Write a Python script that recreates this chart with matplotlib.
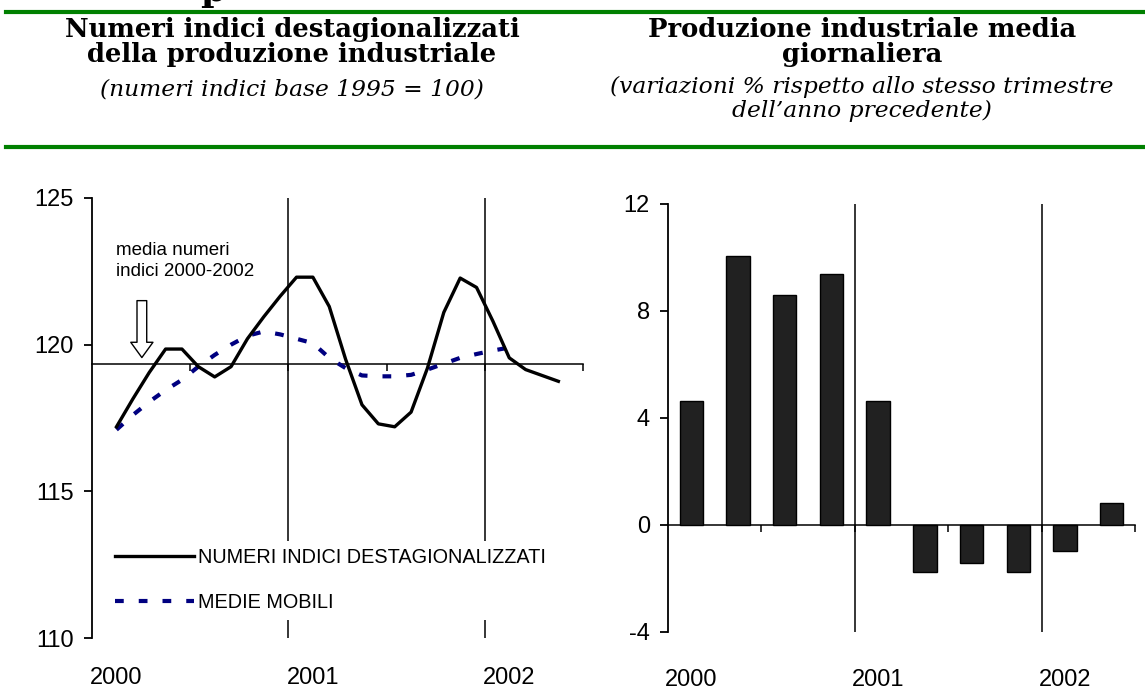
import matplotlib
matplotlib.use("Agg")
import matplotlib.pyplot as plt
from matplotlib.lines import Line2D

plt.rcParams['font.family'] = ['Liberation Sans', 'DejaVu Sans']
plt.rcParams['axes.unicode_minus'] = False

# numeri indici destagionalizzati (mensili, feb 2000 - mag 2002)
mesi = [k + 0.5 for k in range(1, 29)]
indici = [117.2, 118.15, 119.05, 119.85, 119.85, 119.25, 118.9, 119.25, 120.2, 120.95,
          121.65, 122.3, 122.3, 121.3, 119.5, 117.95, 117.3, 117.2, 117.7, 119.2,
          121.1, 122.27, 121.95, 120.8, 119.55, 119.15, 118.95, 118.75]

# medie mobili (feb 2000 - feb 2002)
mesi_mm = [k + 0.5 for k in range(1, 26)]
medie_mobili = [117.1, 117.6, 118.05, 118.45, 118.8, 119.25, 119.65, 120.0, 120.3, 120.45,
                120.35, 120.2, 120.05, 119.55, 119.2, 118.95, 118.92, 118.92, 118.97, 119.15,
                119.35, 119.55, 119.68, 119.8, 119.9]

media_indici = 119.35

# produzione industriale media giornaliera, variazioni % trimestrali
trimestri = [k + 0.5 for k in range(10)]
variazioni = [4.65, 10.07, 8.59, 9.39, 4.65, -1.74, -1.43, -1.74, -0.99, 0.84]

anni = ['2000', '2001', '2002']
pos_anni_mesi = [1.5, 13.5, 25.5]
pos_anni_trim = [0.5, 4.5, 8.5]

verde = '#008000'
blu = '#000080'
serif = 'DejaVu Serif'

fig = plt.figure(figsize=(11.45, 6.91), dpi=100)

# linee verdi e titoli
for yy in [0.9826, 0.7873]:
    fig.add_artist(Line2D([0.005, 1.0], [yy, yy], transform=fig.transFigure,
                          color=verde, lw=3))

fig.text(213 / 1145, 1 - 1 / 691, 'p', family=serif, fontweight='bold', fontsize=26,
         ha='center', va='baseline')

fig.text(0.255, 0.9580, 'Numeri indici destagionalizzati', family=serif,
         fontweight='bold', fontsize=18.6, ha='center', va='center')
fig.text(0.255, 0.9210, 'della produzione industriale', family=serif,
         fontweight='bold', fontsize=18.6, ha='center', va='center')
fig.text(0.255, 0.8698, '(numeri indici base 1995 = 100)', family=serif,
         style='italic', fontsize=16.8, ha='center', va='center')

fig.text(0.753, 0.9580, 'Produzione industriale media', family=serif,
         fontweight='bold', fontsize=18.6, ha='center', va='center')
fig.text(0.753, 0.9210, 'giornaliera', family=serif,
         fontweight='bold', fontsize=18.6, ha='center', va='center')
fig.text(0.753, 0.8740, '(variazioni % rispetto allo stesso trimestre', family=serif,
         style='italic', fontsize=16.8, ha='center', va='center')
fig.text(0.753, 0.8400, 'dell\u2019anno precedente)', family=serif,
         style='italic', fontsize=16.8, ha='center', va='center')

# grafico di sinistra
ax1 = fig.add_axes([0.0803, 0.0767, 0.4288, 0.6368])
l_mm, = ax1.plot(mesi_mm, medie_mobili, color=blu, lw=3, dashes=(2.1, 3.6),
                 label='MEDIE MOBILI', zorder=3)
l_ind, = ax1.plot(mesi, indici, color='black', lw=2.4,
                  label='NUMERI INDICI DESTAGIONALIZZATI', zorder=4)
ax1.axvline(12, color='black', lw=1.1, zorder=1)
ax1.axvline(24, color='black', lw=1.1, zorder=1)
ax1.set_xlim(0, 30)
ax1.set_ylim(110, 125)
ax1.spines['top'].set_visible(False)
ax1.spines['right'].set_visible(False)
ax1.spines['left'].set_linewidth(1.3)
ax1.spines['bottom'].set_position(('data', media_indici))
ax1.spines['bottom'].set_linewidth(1.1)
ax1.set_xticks([6, 12, 18, 24, 30])
ax1.tick_params(axis='x', direction='out', length=5, width=1.1, labelbottom=False)
ax1.set_yticks([110, 115, 120, 125])
ax1.tick_params(axis='y', direction='out', length=6, width=1.3, pad=7, labelsize=17)
for p, a in zip(pos_anni_mesi, anni):
    ax1.text(p, -0.091, a, transform=ax1.get_xaxis_transform(), ha='center',
             va='center', fontsize=17)

ax1.text(1.45, 122.85, 'media numeri\nindici 2000-2002', ha='left', va='center',
         fontsize=13.5, linespacing=1.3)
ax1.annotate('', xy=(3.05, 119.56), xytext=(3.05, 121.5),
             arrowprops=dict(arrowstyle='simple,head_length=1.1,head_width=1.6,tail_width=0.7',
                             fc='white', ec='black', lw=1, shrinkA=0, shrinkB=0,
                             mutation_scale=10))

leg = ax1.legend(handles=[l_ind, l_mm], loc='center left', bbox_to_anchor=(0.03, 0.131),
                 frameon=True, facecolor='white', edgecolor='none', framealpha=1,
                 fontsize=14.3, handlelength=4.0, handletextpad=0.2, labelspacing=1.3,
                 borderpad=0.4, borderaxespad=0, fancybox=False)
leg.set_zorder(5)

# grafico di destra
ax2 = fig.add_axes([0.5834, 0.0854, 0.4079, 0.6194])
ax2.bar(trimestri, variazioni, width=0.5, color='#212121', edgecolor='black', lw=1, zorder=3)
ax2.axvline(4, color='black', lw=1.1, zorder=1)
ax2.axvline(8, color='black', lw=1.1, zorder=1)
ax2.set_xlim(0, 10)
ax2.set_ylim(-4, 12)
ax2.spines['top'].set_visible(False)
ax2.spines['right'].set_visible(False)
ax2.spines['left'].set_linewidth(1.3)
ax2.spines['bottom'].set_position(('data', 0))
ax2.spines['bottom'].set_linewidth(1.1)
ax2.set_xticks([2, 4, 6, 8, 10])
ax2.tick_params(axis='x', direction='out', length=5, width=1.1, labelbottom=False)
ax2.set_yticks([-4, 0, 4, 8, 12])
ax2.tick_params(axis='y', direction='out', length=6, width=1.3, pad=7, labelsize=17)
for p, a in zip(pos_anni_trim, anni):
    ax2.text(p, -0.112, a, transform=ax2.get_xaxis_transform(), ha='center',
             va='center', fontsize=17)

fig.savefig('out.png', dpi=100)
